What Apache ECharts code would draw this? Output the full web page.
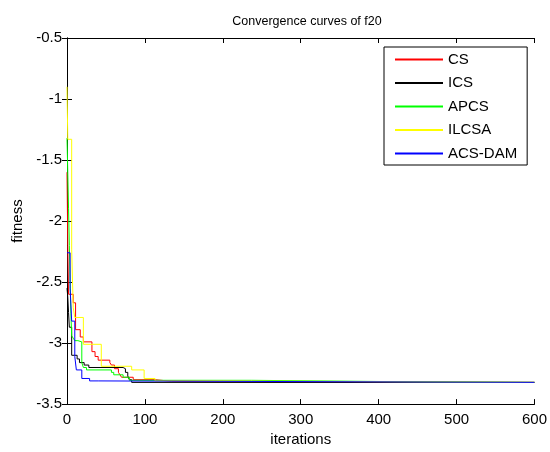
<!DOCTYPE html>
<html>
<head>
<meta charset="utf-8">
<script src="https://cdn.jsdelivr.net/npm/echarts@6/dist/echarts.min.js"></script>
<style>
html,body{margin:0;padding:0;background:#fff;overflow:hidden;}
#chart{width:550px;height:452px;}
</style>
</head>
<body>
<div id="chart"></div>
<script>
// ---- data ----
const xTicks = [0, 100, 200, 300, 400, 500, 600];
const yTicks = [-3.5, -3, -2.5, -2, -1.5, -1, -0.5];

const seriesNames = ['CS', 'ICS', 'APCS', 'ILCSA', 'ACS-DAM'];

const csIter = [0, 1, 2, 8, 11, 17, 21, 32, 36, 40, 55, 57, 61, 66, 68, 70, 85, 113, 134, 196, 600];
const csFit  = [-1.6, -2.2, -2.6, -2.67, -2.89, -2.95, -2.99, -3.07, -3.11, -3.14, -3.16, -3.18, -3.21, -3.24, -3.26, -3.28, -3.30, -3.313, -3.318, -3.322, -3.322];

const icsIter = [0, 1, 2, 3, 6, 10, 13, 16, 22, 28, 72, 75, 78, 80, 83, 600];
const icsFit  = [-2.55, -2.62, -2.75, -2.87, -3.10, -3.10, -3.13, -3.16, -3.18, -3.20, -3.21, -3.24, -3.27, -3.30, -3.322, -3.322];

const apcsIter = [0, 1, 2, 3, 4, 5, 6, 8, 10, 14, 19, 21, 25, 57, 60, 72, 80, 237, 405, 600];
const apcsFit  = [-1.32, -1.6, -1.9, -2.2, -2.5, -2.76, -2.94, -2.96, -2.98, -2.99, -3.16, -3.20, -3.22, -3.24, -3.26, -3.28, -3.305, -3.315, -3.322, -3.322];

const ilcsaIter = [0, 1, 6, 8, 10, 21, 44, 83, 99, 113, 200, 600];
const ilcsaFit  = [-0.9, -1.33, -2.23, -2.71, -2.79, -3.01, -3.19, -3.22, -3.29, -3.31, -3.322, -3.322];

const acsdamIter = [0, 4, 6, 10, 12, 19, 29, 40, 600];
const acsdamFit  = [-2.26, -2.55, -2.82, -3.11, -3.22, -3.29, -3.31, -3.322, -3.322];

const seriesIters = [csIter, icsIter, apcsIter, ilcsaIter, acsdamIter];
const seriesFits = [csFit, icsFit, apcsFit, ilcsaFit, acsdamFit];
const seriesColors = ['#ff0000', '#000000', '#00ff00', '#ffff00', '#0000ff'];

// ---- chart ----
const font = "'Liberation Sans', Arial, Helvetica, sans-serif";
const chart = echarts.init(document.getElementById('chart'), null, {renderer: 'canvas'});

const axisCommon = {
  axisLine: {show: true, lineStyle: {color: '#000', width: 1}},
  axisTick: {show: true, inside: true, length: 5, lineStyle: {color: '#000'}},
  splitLine: {show: false}
};

const series = seriesNames.map((name, i) => ({
  name: name,
  type: 'line',
  step: 'end',
  symbol: 'none',
  showSymbol: false,
  color: seriesColors[i],
  lineStyle: {color: seriesColors[i], width: 1},
  itemStyle: {color: seriesColors[i]},
  xAxisIndex: 0,
  yAxisIndex: 0,
  data: seriesIters[i].map((it, k) => [it, seriesFits[i][k]]),
  z: 2 + i,
  animation: false
}));

chart.setOption({
  animation: false,
  backgroundColor: '#fff',
  title: {
    text: 'Convergence curves of f20',
    left: 302,
    top: 10,
    textAlign: 'center',
    textStyle: {fontFamily: font, fontSize: 12.5, fontWeight: 'normal', color: '#000'}
  },
  grid: {left: 67, right: 14, top: 38, bottom: 45, containLabel: false},
  legend: {
    orient: 'vertical',
    left: 384,
    top: 47,
    data: seriesNames,
    icon: 'rect',
    itemWidth: 48,
    itemHeight: 2,
    itemGap: 8.5,
    padding: [5, 10, 4, 11],
    backgroundColor: '#fff',
    borderColor: '#000',
    borderWidth: 1,
    textStyle: {fontFamily: font, fontSize: 15, color: '#000'}
  },
  xAxis: [
    Object.assign({
      type: 'value', position: 'bottom',
      min: xTicks[0], max: xTicks[xTicks.length - 1], interval: 100,
      name: 'iterations', nameLocation: 'middle', nameGap: 25,
      nameTextStyle: {fontFamily: font, fontSize: 15, color: '#000'},
      axisLabel: {fontFamily: font, fontSize: 15, color: '#000', margin: 8}
    }, axisCommon),
    Object.assign({
      type: 'value', position: 'top',
      min: xTicks[0], max: xTicks[xTicks.length - 1], interval: 100,
      axisLabel: {show: false}
    }, axisCommon)
  ],
  yAxis: [
    Object.assign({
      type: 'value', position: 'left',
      min: yTicks[0], max: yTicks[yTicks.length - 1], interval: 0.5,
      name: 'fitness', nameLocation: 'middle', nameGap: 42,
      nameTextStyle: {fontFamily: font, fontSize: 15, color: '#000'},
      axisLabel: {fontFamily: font, fontSize: 15, color: '#000', margin: 5}
    }, axisCommon),
    Object.assign({
      type: 'value', position: 'right',
      min: yTicks[0], max: yTicks[yTicks.length - 1], interval: 0.5,
      axisLabel: {show: false}
    }, axisCommon)
  ],
  series: series
});
</script>
</body>
</html>
